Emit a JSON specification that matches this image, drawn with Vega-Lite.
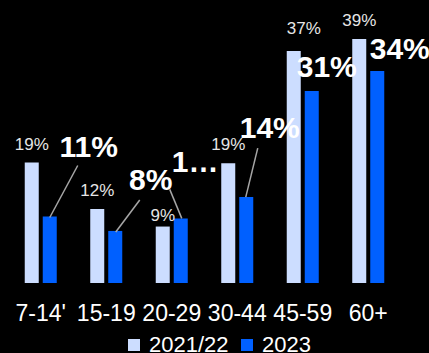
{
  "$schema": "https://vega.github.io/schema/vega-lite/v6.json",
  "width": 393,
  "height": 276,
  "autosize": "none",
  "padding": {"left": 8, "top": 7, "right": 28, "bottom": 70},
  "background": "black",
  "config": {
    "view": {"stroke": null},
    "font": "Liberation Sans",
    "text": {"font": "Liberation Sans"}
  },
  "data": {
    "values": [
      {"age": "7-14'", "series": "2021/22", "value": 0.192},
      {"age": "7-14'", "series": "2023", "value": 0.106},
      {"age": "15-19", "series": "2021/22", "value": 0.118},
      {"age": "15-19", "series": "2023", "value": 0.083},
      {"age": "20-29", "series": "2021/22", "value": 0.090},
      {"age": "20-29", "series": "2023", "value": 0.103},
      {"age": "30-44", "series": "2021/22", "value": 0.191},
      {"age": "30-44", "series": "2023", "value": 0.137},
      {"age": "45-59", "series": "2021/22", "value": 0.370},
      {"age": "45-59", "series": "2023", "value": 0.306},
      {"age": "60+", "series": "2021/22", "value": 0.389},
      {"age": "60+", "series": "2023", "value": 0.338}
    ]
  },
  "encoding": {
    "x": {
      "field": "age", "type": "nominal",
      "sort": ["7-14'", "15-19", "20-29", "30-44", "45-59", "60+"],
      "scale": {"paddingInner": 0, "paddingOuter": 0},
      "axis": {"title": null, "labelAngle": 0, "domain": false, "ticks": false, "labelFontSize": 23, "labelColor": "white", "labelPadding": 19, "labelFont": "Liberation Sans"}
    },
    "y": {
      "field": "value", "type": "quantitative",
      "scale": {"domain": [0, 0.44], "nice": false},
      "axis": null
    }
  },
  "layer": [
    {
      "mark": {"type": "bar"},
      "encoding": {
        "xOffset": {"field": "series", "type": "nominal", "scale": {"domain": ["2021/22", "2023"], "paddingInner": 0.222, "paddingOuter": 0.93}},
        "color": {
          "field": "series", "type": "nominal",
          "scale": {"domain": ["2021/22", "2023"], "range": ["#CCDDFF", "#0060FF"]},
          "legend": {"title": null, "orient": "none", "legendX": 115, "legendY": 327, "direction": "horizontal", "symbolType": "square", "symbolSize": 144, "symbolStrokeWidth": 0, "labelFontSize": 22, "labelColor": "white", "labelFont": "Liberation Sans", "labelOffset": 4, "columnPadding": 7}
        }
      }
    },
    {
      "transform": [{"filter": "datum.series == '2021/22' && datum.age != '20-29' && datum.age != '45-59'"}],
      "mark": {"type": "text", "baseline": "alphabetic", "dy": -13, "fontSize": 17, "color": "#E6E6E6"},
      "encoding": {"xOffset": {"field": "series", "type": "nominal"}, "text": {"field": "value", "type": "quantitative", "format": ".0%"}}
    },
    {
      "transform": [{"filter": "datum.series == '2021/22' && datum.age == '20-29'"}],
      "mark": {"type": "text", "baseline": "alphabetic", "dy": -6, "fontSize": 17, "color": "#E6E6E6"},
      "encoding": {"xOffset": {"field": "series", "type": "nominal"}, "text": {"field": "value", "type": "quantitative", "format": ".0%"}}
    },
    {
      "transform": [{"filter": "datum.series == '2021/22' && datum.age == '45-59'"}],
      "mark": {"type": "text", "baseline": "alphabetic", "dx": 10, "dy": -17, "fontSize": 17, "color": "#E6E6E6"},
      "encoding": {"xOffset": {"field": "series", "type": "nominal"}, "text": {"field": "value", "type": "quantitative", "format": ".0%"}}
    },
    {
      "transform": [{"filter": "datum.series == '2023' && datum.age == \"7-14'\""}],
      "mark": {"type": "text", "baseline": "alphabetic", "dx": 48, "dy": -60, "fontSize": 30, "fontWeight": "bold", "color": "white"},
      "encoding": {"text": {"field": "value", "type": "quantitative", "format": ".0%"}}
    },
    {
      "transform": [{"filter": "datum.series == '2023' && datum.age == '15-19'"}],
      "mark": {"type": "text", "baseline": "alphabetic", "dx": 44.5, "dy": -41, "fontSize": 30, "fontWeight": "bold", "color": "white"},
      "encoding": {"text": {"field": "value", "type": "quantitative", "format": ".0%"}}
    },
    {
      "transform": [{"filter": "datum.series == '2023' && datum.age == '20-29'"}],
      "mark": {"type": "text", "baseline": "alphabetic", "align": "left", "dx": 0, "dy": -46, "fontSize": 30, "fontWeight": "bold", "color": "white", "limit": 50},
      "encoding": {"text": {"field": "value", "type": "quantitative", "format": ".0%"}}
    },
    {
      "transform": [{"filter": "datum.series == '2023' && datum.age == '30-44'"}],
      "mark": {"type": "text", "baseline": "alphabetic", "dx": 32.5, "dy": -59, "fontSize": 30, "fontWeight": "bold", "color": "white"},
      "encoding": {"text": {"field": "value", "type": "quantitative", "format": ".0%"}}
    },
    {
      "transform": [{"filter": "datum.series == '2023' && datum.age == '45-59'"}],
      "mark": {"type": "text", "baseline": "alphabetic", "dx": 24, "dy": -14, "fontSize": 30, "fontWeight": "bold", "color": "white"},
      "encoding": {"text": {"field": "value", "type": "quantitative", "format": ".0%"}}
    },
    {
      "transform": [{"filter": "datum.series == '2023' && datum.age == '60+'"}],
      "mark": {"type": "text", "baseline": "alphabetic", "dx": 31.5, "dy": -12, "fontSize": 30, "fontWeight": "bold", "color": "white"},
      "encoding": {"text": {"field": "value", "type": "quantitative", "format": ".0%"}}
    },
    {
      "transform": [{"filter": "datum.series == '2023' && datum.age == \"7-14'\""}],
      "mark": {"type": "rule", "color": "#A6A6A6", "strokeWidth": 1.5, "xOffset": 9, "yOffset": 1, "x2Offset": 37, "y2Offset": -51},
      "encoding": {"x2": {"field": "age"}, "y2": {"field": "value"}}
    },
    {
      "transform": [{"filter": "datum.series == '2023' && datum.age == '15-19'"}],
      "mark": {"type": "rule", "color": "#A6A6A6", "strokeWidth": 1.5, "xOffset": 9.5, "yOffset": 1, "x2Offset": 33.5, "y2Offset": -31},
      "encoding": {"x2": {"field": "age"}, "y2": {"field": "value"}}
    },
    {
      "transform": [{"filter": "datum.series == '2023' && datum.age == '20-29'"}],
      "mark": {"type": "rule", "color": "#A6A6A6", "strokeWidth": 1.5, "xOffset": 10, "yOffset": 0, "x2Offset": -2, "y2Offset": -29},
      "encoding": {"x2": {"field": "age"}, "y2": {"field": "value"}}
    },
    {
      "transform": [{"filter": "datum.series == '2023' && datum.age == '30-44'"}],
      "mark": {"type": "rule", "color": "#A6A6A6", "strokeWidth": 1.5, "xOffset": 8.5, "yOffset": 0, "x2Offset": 20.5, "y2Offset": -49},
      "encoding": {"x2": {"field": "age"}, "y2": {"field": "value"}}
    }
  ]
}
